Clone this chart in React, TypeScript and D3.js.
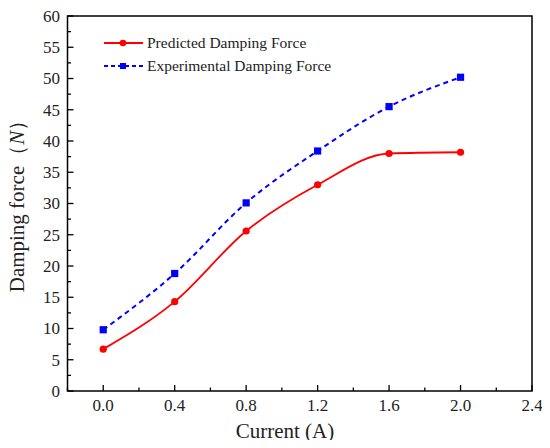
import { useEffect, useRef } from 'react';
import * as d3 from 'd3';

// values
const currents = [0.0, 0.4, 0.8, 1.2, 1.6, 2.0];
const predicted = [6.7, 14.3, 25.6, 33.0, 38.0, 38.2];
const experimental = [9.8, 18.8, 30.1, 38.4, 45.5, 50.2];
const xTicks = [0.0, 0.4, 0.8, 1.2, 1.6, 2.0, 2.4];
const yTicks = [0, 5, 10, 15, 20, 25, 30, 35, 40, 45, 50, 55, 60];

const FONT = '"Liberation Serif", "DejaVu Serif", serif';

const Chart: React.FC = () => {
  const svgRef = useRef<SVGSVGElement | null>(null);

  useEffect(() => {
    if (!svgRef.current) return;
    const width = 550;
    const height = 448;
    const margin = { top: 16, right: 18, bottom: 57, left: 67.5 };

    const svg = d3.select(svgRef.current);
    svg.selectAll('*').remove();
    svg.attr('width', width).attr('height', height);

    const x = d3
      .scaleLinear()
      .domain([-0.2, 2.4])
      .range([margin.left, width - margin.right]);
    const y = d3
      .scaleLinear()
      .domain([0, 60])
      .range([height - margin.bottom, margin.top]);

    const x0 = x.range()[0];
    const x1 = x.range()[1];
    const y0 = y.range()[0];
    const y1 = y.range()[1];

    // frame
    svg
      .append('rect')
      .attr('x', x0)
      .attr('y', y1)
      .attr('width', x1 - x0)
      .attr('height', y0 - y1)
      .attr('fill', 'none')
      .attr('stroke', '#000')
      .attr('stroke-width', 1.5);

    // x ticks (inward)
    const xMinor = d3.range(-0.2, 2.41, 0.2);
    xMinor.forEach((v) => {
      const major = xTicks.some((t) => Math.abs(t - v) < 1e-6);
      svg
        .append('line')
        .attr('x1', x(v))
        .attr('x2', x(v))
        .attr('y1', y0)
        .attr('y2', y0 - (major ? 6 : 3.5))
        .attr('stroke', '#000')
        .attr('stroke-width', 1.3);
    });
    xTicks.forEach((t) => {
      svg
        .append('text')
        .attr('x', x(t))
        .attr('y', 411)
        .attr('text-anchor', 'middle')
        .attr('font-family', FONT)
        .attr('font-size', 17)
        .attr('fill', '#222')
        .text(t.toFixed(1));
    });

    // y ticks (inward)
    d3.range(0, 60.1, 2.5).forEach((v) => {
      const major = v % 5 === 0;
      svg
        .append('line')
        .attr('x1', x0)
        .attr('x2', x0 + (major ? 6 : 3.5))
        .attr('y1', y(v))
        .attr('y2', y(v))
        .attr('stroke', '#000')
        .attr('stroke-width', 1.3);
    });
    yTicks.forEach((t) => {
      svg
        .append('text')
        .attr('x', 60)
        .attr('y', y(t))
        .attr('dy', '0.35em')
        .attr('text-anchor', 'end')
        .attr('font-family', FONT)
        .attr('font-size', 17)
        .attr('fill', '#222')
        .text(t);
    });

    // axis titles
    svg
      .append('text')
      .attr('x', 285)
      .attr('y', 438)
      .attr('text-anchor', 'middle')
      .attr('font-family', FONT)
      .attr('font-size', 21)
      .attr('fill', '#222')
      .text('Current (A)');

    const yTitle = svg
      .append('text')
      .attr('transform', 'translate(24,201) rotate(-90)')
      .attr('text-anchor', 'middle')
      .attr('font-family', FONT)
      .attr('font-size', 21)
      .attr('fill', '#222');
    yTitle.append('tspan').text('Damping force（');
    yTitle.append('tspan').attr('font-style', 'italic').text('N');
    yTitle.append('tspan').text('）');

    const line = d3
      .line<number>()
      .x((_, i) => x(currents[i]))
      .y((d) => y(d))
      .curve(d3.curveMonotoneX);

    // predicted
    svg
      .append('path')
      .attr('d', line(predicted))
      .attr('fill', 'none')
      .attr('stroke', '#ff0000')
      .attr('stroke-width', 1.8);
    predicted.forEach((d, i) => {
      svg
        .append('circle')
        .attr('cx', x(currents[i]))
        .attr('cy', y(d))
        .attr('r', 3.6)
        .attr('fill', '#ff0000');
    });

    // experimental
    svg
      .append('path')
      .attr('d', line(experimental))
      .attr('fill', 'none')
      .attr('stroke', '#0000ff')
      .attr('stroke-width', 2)
      .attr('stroke-dasharray', '5,4');
    experimental.forEach((d, i) => {
      svg
        .append('rect')
        .attr('x', x(currents[i]) - 3.6)
        .attr('y', y(d) - 3.6)
        .attr('width', 7.2)
        .attr('height', 7.2)
        .attr('fill', '#0000ff');
    });

    // legend
    const legend = svg.append('g');
    const rows = [
      { label: 'Predicted Damping Force', color: '#ff0000', dash: null, shape: 'circle', yy: 43 },
      { label: 'Experimental Damping Force', color: '#0000ff', dash: '4,3', shape: 'square', yy: 66 },
    ];
    rows.forEach((r) => {
      legend
        .append('line')
        .attr('x1', 104)
        .attr('x2', 143)
        .attr('y1', r.yy)
        .attr('y2', r.yy)
        .attr('stroke', r.color)
        .attr('stroke-width', 1.8)
        .attr('stroke-dasharray', r.dash);
      if (r.shape === 'circle') {
        legend.append('circle').attr('cx', 123).attr('cy', r.yy).attr('r', 3.3).attr('fill', r.color);
      } else {
        legend
          .append('rect')
          .attr('x', 120)
          .attr('y', r.yy - 3)
          .attr('width', 6)
          .attr('height', 6)
          .attr('fill', r.color);
      }
      legend
        .append('text')
        .attr('x', 147)
        .attr('y', r.yy)
        .attr('dy', '0.35em')
        .attr('font-family', FONT)
        .attr('font-size', 15.5)
        .attr('fill', '#222')
        .text(r.label);
    });
  }, []);

  return <svg ref={svgRef} style={{ display: 'block' }} />;
};

export default function App() {
  return (
    <div style={{ margin: -8 }}>
      <Chart />
    </div>
  );
}
